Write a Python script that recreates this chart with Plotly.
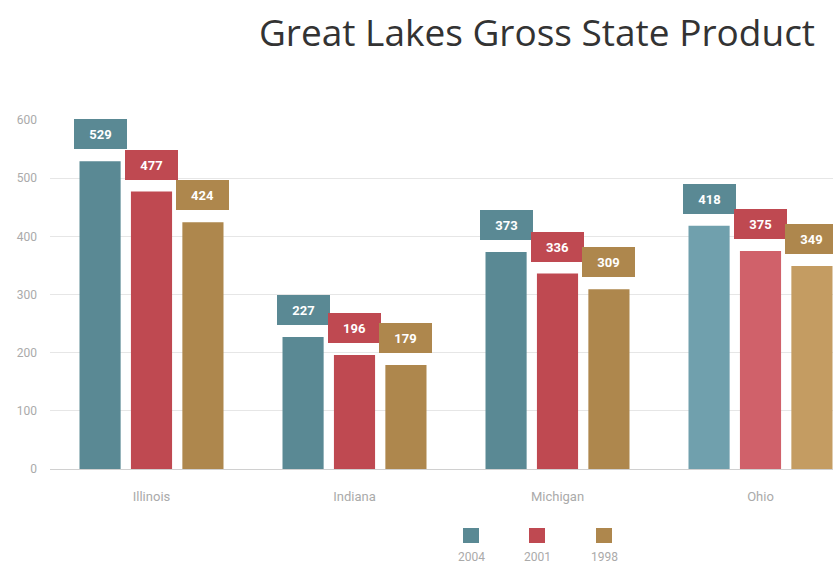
import plotly.graph_objects as go

# Gross state product (billions of dollars) for the Great Lakes states
states = ["Illinois", "Indiana", "Michigan", "Ohio"]
years = ["2004", "2001", "1998"]
gsp_2004 = [529, 227, 373, 418]
gsp_2001 = [477, 196, 336, 375]
gsp_1998 = [424, 179, 309, 349]
series_values = [gsp_2004, gsp_2001, gsp_1998]

# Base series colours, plus a lighter shade for the highlighted (hovered) state
base_colors = ["#5a8994", "#bf4951", "#ae874d"]
light_colors = ["#70a0ad", "#d0616a", "#c49c62"]
highlight_state = "Ohio"

BARGAP = 0.24
BARGROUPGAP = 0.2
label_font = "Liberation Sans Narrow, Arial Narrow, Roboto, sans-serif"

W, H = 833, 563
ML, MR, MT, MB = 50, 0, 120, 94


def paper_x(xpix):
    return (xpix - ML) / (W - ML - MR)


def paper_y(ypix):
    return (H - MB - ypix) / (H - MB - MT)


fig = go.Figure()
for j, (name, vals) in enumerate(zip(years, series_values)):
    colors = [light_colors[j] if s == highlight_state else base_colors[j] for s in states]
    fig.add_trace(go.Bar(
        x=states, y=vals, name=name,
        marker=dict(color=colors, line=dict(width=0)),
        showlegend=False,
    ))

# Value tags: filled boxes sitting just above each bar
slot = (1 - BARGAP) / len(years)
for j, vals in enumerate(series_values):
    for i, v in enumerate(vals):
        fig.add_annotation(
            x=i + (j - (len(years) - 1) / 2) * slot, y=v,
            xref="x", yref="y",
            text=f"<b>{v}</b>", showarrow=False,
            yanchor="bottom", yshift=12,
            width=53, height=30, borderpad=0, borderwidth=0,
            bgcolor=base_colors[j],
            font=dict(family=label_font, size=13, color="white"),
        )

# Legend: colour swatch with the year written underneath
legend_x = [471, 537, 604]
for j, name in enumerate(years):
    fig.add_shape(
        type="rect", xref="paper", yref="paper",
        x0=paper_x(legend_x[j] - 8), x1=paper_x(legend_x[j] + 8),
        y0=paper_y(543), y1=paper_y(528),
        line=dict(width=0), fillcolor=base_colors[j],
    )
    fig.add_annotation(
        x=paper_x(legend_x[j]), y=paper_y(557),
        xref="paper", yref="paper", text=name, showarrow=False,
        font=dict(family=label_font, size=12, color="#aaaaaa"),
        xanchor="center", yanchor="middle",
    )

fig.update_layout(
    width=W, height=H,
    margin=dict(l=ML, r=MR, t=MT, b=MB),
    paper_bgcolor="white", plot_bgcolor="white",
    barmode="group", bargap=BARGAP, bargroupgap=BARGROUPGAP,
    title=dict(
        text="Great Lakes Gross State Product",
        xref="container", yref="container",
        x=537 / W, y=1 - 33 / H, xanchor="center", yanchor="middle",
        font=dict(family="Open Sans, Noto Sans, sans-serif", size=37, color="#333333"),
    ),
    xaxis=dict(
        range=[-0.5, -0.5 + (W - ML - MR) / 203],
        showgrid=False, showline=False, ticks="", ticklabelstandoff=18,
        tickfont=dict(family=label_font, size=13, color="#aaaaaa"),
        fixedrange=True,
    ),
    yaxis=dict(
        range=[0, 600], tickvals=[0, 100, 200, 300, 400, 500, 600],
        showgrid=True, gridcolor="#e6e6e6", gridwidth=1,
        zeroline=True, zerolinecolor="#d0d0d0", zerolinewidth=1,
        showline=False, ticks="", ticklabelstandoff=12,
        tickfont=dict(family=label_font, size=12, color="#aaaaaa"),
    ),
)

fig.write_html("out.html")
